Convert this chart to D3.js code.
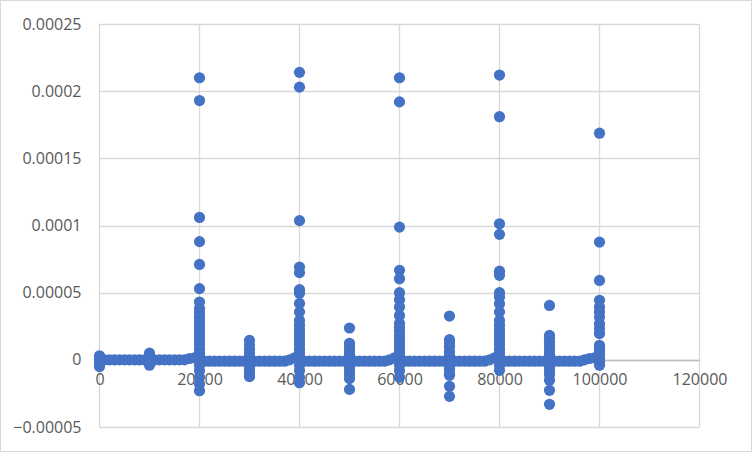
<!DOCTYPE html>
<meta charset="utf-8">
<style>
  body { margin: 0; background: #fff; }
  .tick text { font-family: "Open Sans", sans-serif; font-size: 16px; fill: #595959; }
</style>
<body>
<script src="https://d3js.org/d3.v7.min.js"></script>
<script>

var width = 752
var height = 452

// tick values
var xTicks = [0, 20000, 40000, 60000, 80000, 100000, 120000]
var yTicks = [-0.00005, 0, 0.00005, 0.0001, 0.00015, 0.0002, 0.00025]

// dense near-zero band
var bandX = [0,1000,2000,3000,4000,5000,6000,7000,8000,9000,10000,11000,12000,13000,14000,15000,16000,17000,18000,19000,
  20000,21000,22000,23000,24000,25000,26000,27000,28000,29000,30000,31000,32000,33000,34000,35000,36000,37000,38000,39000,
  40000,41000,42000,43000,44000,45000,46000,47000,48000,49000,50000,51000,52000,53000,54000,55000,56000,57000,58000,59000,
  60000,61000,62000,63000,64000,65000,66000,67000,68000,69000,70000,71000,72000,73000,74000,75000,76000,77000,78000,79000,
  80000,81000,82000,83000,84000,85000,86000,87000,88000,89000,90000,91000,92000,93000,94000,95000,96000,97000,98000,99000,100000]
var bandY = [0,0,0,0,0,0,0,0,0,0,0,0,0,0,0,0,0,0,0.000001,0.0000015,
  0,-0.000001,-0.000001,-0.000001,-0.000001,-0.000001,-0.000001,-0.000001,-0.000001,-0.000001,-0.000001,-0.000001,-0.000001,-0.000001,-0.000001,-0.000001,-0.000001,-0.000001,0,0.0000015,
  0,-0.000001,-0.000001,-0.000001,-0.000001,-0.000001,-0.000001,-0.000001,-0.000001,-0.000001,-0.000001,-0.000001,-0.000001,-0.000001,-0.000001,-0.000001,-0.000001,-0.000001,0,0.0000015,
  0,-0.000001,-0.000001,-0.000001,-0.000001,-0.000001,-0.000001,-0.000001,-0.000001,-0.000001,-0.000001,-0.000001,-0.000001,-0.000001,-0.000001,-0.000001,-0.000001,-0.000001,0,0.0000015,
  0,-0.000001,-0.000001,-0.000001,-0.000001,-0.000001,-0.000001,-0.000001,-0.000001,-0.000001,-0.000001,-0.000001,-0.000001,-0.000001,-0.000001,-0.000001,-0.000001,0,0.000001,0.0000015,0]

// spikes at every 10000
var spikeX = [0, 10000, 20000, 30000, 40000, 50000, 60000, 70000, 80000, 90000, 100000]
var spike0 = [0.000003, 0.000001, -0.000002, -0.000005]
var spike10k = [0.000005, 0.000003, -0.000003, -0.000004]
var spike20k = [0.00021, 0.000193, 0.000106, 0.000088, 0.000071, 0.000053, 0.000043, 0.0000383,
  0.000035, 0.000032, 0.000029, 0.000026, 0.000023, 0.00002, 0.000017, 0.000014, 0.000011, 0.000008, 0.000005, 0.000003, 0.000001,
  -0.000004, -0.000008, -0.000013, -0.000018, -0.000023]
var spike30k = [0.0000145, 0.000011, 0.000008, 0.000005, 0.000002, -0.000002, -0.000005, -0.000008, -0.000011, -0.0000125]
var spike40k = [0.000214, 0.000203, 0.0001036, 0.000069, 0.0000649, 0.0000522, 0.0000495, 0.000042, 0.0000356, 0.0000294,
  0.000026, 0.000023, 0.00002, 0.000017, 0.000014, 0.000011, 0.000008, 0.000005, 0.000002,
  -0.000004, -0.000008, -0.000013, -0.000017]
var spike50k = [0.0000237, 0.0000123, 0.00001, 0.000007, 0.000004, 0.000001, -0.000002, -0.000005, -0.000008, -0.000011, -0.000014, -0.000022]
var spike60k = [0.00021, 0.000192, 0.0000988, 0.0000666, 0.0000604, 0.00005, 0.0000448, 0.0000393, 0.000033, 0.000027,
  0.000024, 0.000021, 0.000018, 0.000015, 0.000012, 0.000009, 0.000006, 0.000003, 0.000001,
  -0.000004, -0.000008, -0.000013]
var spike70k = [0.0000326, 0.000015, 0.000012, 0.0000095, 0.000006, 0.000003, -0.000001, -0.000004, -0.000007, -0.00001, -0.0000115, -0.0000197, -0.0000272]
var spike80k = [0.000212, 0.000181, 0.0001013, 0.0000934, 0.000066, 0.0000629, 0.00005, 0.0000467, 0.0000418, 0.0000356, 0.0000294,
  0.000026, 0.000023, 0.00002, 0.000017, 0.000014, 0.000011, 0.000008, 0.000005, 0.000002,
  -0.000004, -0.0000078]
var spike90k = [0.0000405, 0.0000182, 0.000016, 0.0000132, 0.00001, 0.000007, 0.000004, 0.000001, -0.000002, -0.000005, -0.000008, -0.000011, -0.0000152, -0.0000227, -0.0000331]
var spike100k = [0.0001687, 0.0000876, 0.0000591, 0.0000443, 0.0000393, 0.0000356, 0.0000318, 0.0000269, 0.0000232, 0.0000195,
  0.0000108, 0.000009, 0.000007, 0.000004, 0.000001, -0.000002, -0.000004]
var spikeVals = [spike0, spike10k, spike20k, spike30k, spike40k, spike50k, spike60k, spike70k, spike80k, spike90k, spike100k]

var points = bandX.map(function (x, i) { return [x, bandY[i]]; })
spikeX.forEach(function (x, i) {
  spikeVals[i].forEach(function (v) { points.push([x, v]); });
});

var svg = d3.select("body")
  .append("svg")
  .attr("width", width)
  .attr("height", height);

// chart border
svg.append("rect")
  .attr("x", 0.5).attr("y", 0.5)
  .attr("width", width - 1).attr("height", height - 1)
  .attr("fill", "#fff").attr("stroke", "#d9d9d9");

var x = d3.scaleLinear().domain([0, 120000]).range([99.5, 699.5])
var y = d3.scaleLinear().domain([-0.00005, 0.00025]).range([427, 24])

// gridlines
svg.append("g").selectAll("line")
  .data(yTicks)
  .enter().append("line")
    .attr("x1", x(0)).attr("x2", x(120000))
    .attr("y1", function (d) { return Math.round(y(d)) + 0.5; })
    .attr("y2", function (d) { return Math.round(y(d)) + 0.5; })
    .attr("stroke", "#d9d9d9").attr("stroke-width", 1.3);

svg.append("g").selectAll("line")
  .data(xTicks)
  .enter().append("line")
    .attr("x1", function (d) { return x(d); }).attr("x2", function (d) { return x(d); })
    .attr("y1", y(0.00025)).attr("y2", y(-0.00005))
    .attr("stroke", "#d9d9d9").attr("stroke-width", 1.3);

// zero axis line
svg.append("line")
  .attr("x1", x(0)).attr("x2", x(120000))
  .attr("y1", Math.round(y(0)) + 0.5).attr("y2", Math.round(y(0)) + 0.5)
  .attr("stroke", "#bfbfbf").attr("stroke-width", 1.3);

// axes (labels only)
var yAxis = d3.axisLeft(y).tickValues(yTicks).tickSize(0).tickPadding(18)
  .tickFormat(function (d) { return d3.format("")(+d.toPrecision(6)); });
svg.append("g")
  .attr("transform", "translate(" + x(0) + ",0)")
  .call(yAxis)
  .call(function (g) { g.select(".domain").remove(); });

var xAxis = d3.axisBottom(x).tickValues(xTicks).tickSize(0).tickPadding(14)
  .tickFormat(d3.format("d"));
svg.append("g")
  .attr("transform", "translate(0," + y(0) + ")")
  .call(xAxis)
  .call(function (g) { g.select(".domain").remove(); });

// points
svg.append("g").selectAll("circle")
  .data(points)
  .enter().append("circle")
    .attr("cx", function (d) { return x(d[0]); })
    .attr("cy", function (d) { return y(d[1]); })
    .attr("r", 5.6)
    .attr("fill", "#4472c4");

</script>
</body>
